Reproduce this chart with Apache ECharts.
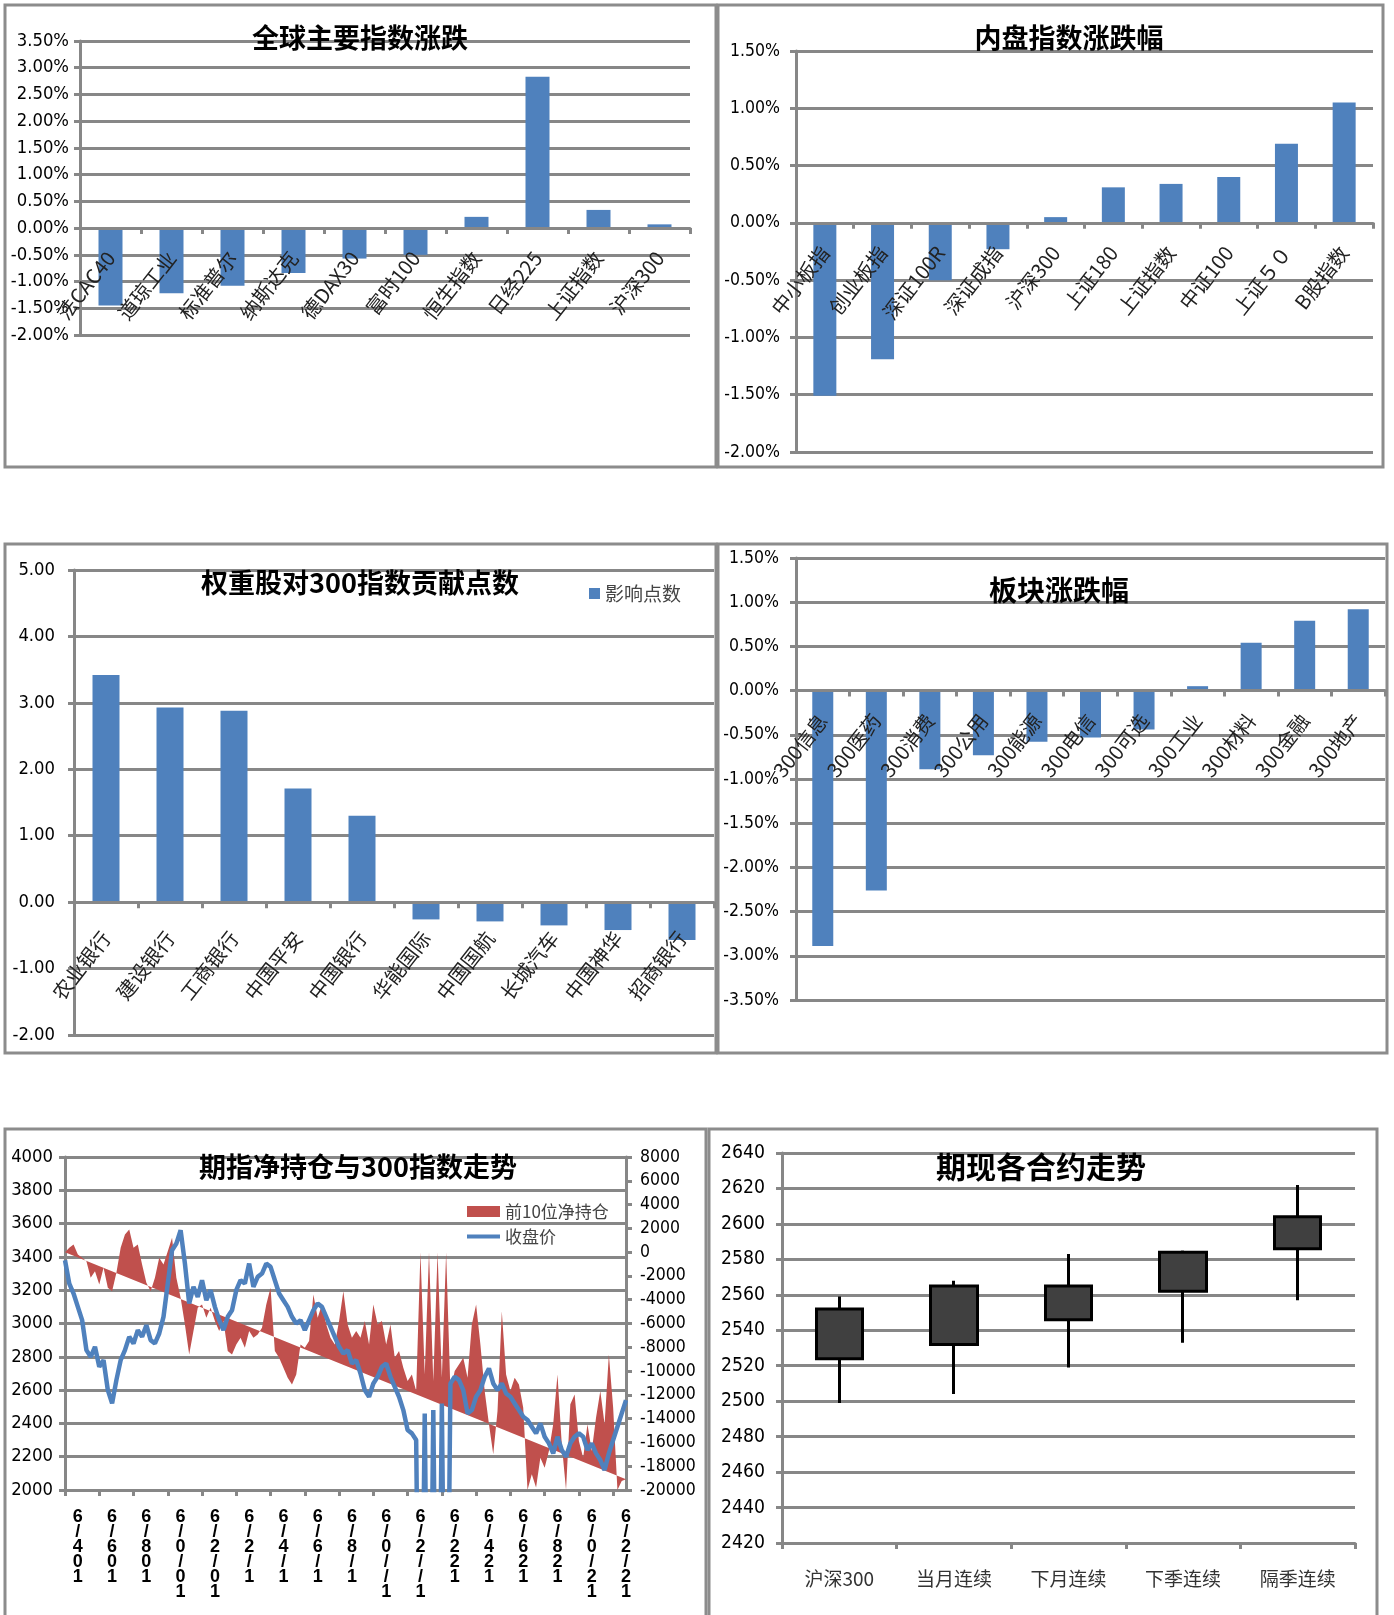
<!DOCTYPE html>
<html><head><meta charset="utf-8">
<script src="https://cdn.jsdelivr.net/npm/echarts@6/dist/echarts.min.js"></script>
<style>html,body{margin:0;padding:0;background:#fff}#c{width:1394px;height:1615px}</style>
</head><body><div id="c"></div>
<script>
// ---------- data ----------
const globalCats = ['法CAC40','道琼工业','标准普尔','纳斯达克','德DAX30','富时100','恒生指数','日经225','上证指数','沪深300'];
const globalVals = [-1.45,-1.22,-1.08,-0.84,-0.57,-0.50,0.21,2.83,0.34,0.07];

const domesticCats = ['中小板指','创业板指','深证100R','深证成指','沪深300','上证180','上证指数','中证100','上证５０','B股指数'];
const domesticVals = [-1.51,-1.19,-0.50,-0.23,0.05,0.31,0.34,0.40,0.69,1.05];

const weightCats = ['农业银行','建设银行','工商银行','中国平安','中国银行','华能国际','中国国航','长城汽车','中国神华','招商银行'];
const weightVals = [3.42,2.93,2.88,1.71,1.30,-0.26,-0.29,-0.35,-0.42,-0.57];

const sectorCats = ['300信息','300医药','300消费','300公用','300能源','300电信','300可选','300工业','300材料','300金融','300地产'];
const sectorVals = [-2.89,-2.26,-0.89,-0.73,-0.58,-0.53,-0.44,0.05,0.54,0.79,0.92];

const dateLabels = ['6/401','6/601','6/801','6/0/01','6/2/01','6/2/1','6/4/1','6/6/1','6/8/1','6/0//1','6/2//1','6/221','6/421','6/621','6/821','6/0/21','6/2/21'];

const closePrice = [3380,3240,3180,3100,3020,2840,2800,2860,2740,2780,
2600,2520,2660,2780,2840,2920,2880,2960,2920,2990,
2900,2880,2940,3040,3240,3440,3480,3560,3360,3120,
3220,3160,3260,3140,3200,3100,3020,2960,3040,3080,
3200,3260,3240,3360,3220,3280,3300,3360,3340,3260,
3180,3140,3100,3040,3000,3020,2960,3020,3080,3120,
3100,3040,2980,2920,2860,2820,2840,2760,2780,2700,
2600,2560,2640,2680,2740,2760,2680,2620,2560,2480,
2360,2340,2300,0,2460,0,2480,0,2520,0,
2640,2680,2660,2600,2460,2480,2560,2600,2680,2730,
2640,2600,2640,2580,2560,2520,2480,2440,2420,2380,
2340,2400,2320,2280,2220,2320,2240,2200,2280,2320,
2340,2320,2240,2280,2220,2180,2120,2220,2300,2380,
2460,2540];

const netPos = [0,360,640,-200,-480,-760,-2160,-1600,-2720,-1320,
-3000,-3280,-1740,360,1480,1900,360,640,-1040,-2580,
-3280,-2160,-480,-1040,80,1200,-2160,-3840,-6080,-8600,
-6640,-4680,-4400,-5520,-4680,-5800,-6640,-5800,-8320,-8600,
-7760,-7200,-8040,-6640,-7200,-6920,-6360,-4400,-3000,-8320,
-8880,-9720,-10560,-11120,-10280,-7760,-8040,-7480,-3560,-5520,
-4400,-6080,-7200,-7760,-5800,-3280,-6080,-7200,-6640,-7200,
-5800,-7760,-4400,-6080,-5800,-7760,-6080,-8880,-8320,-9720,
-10840,-10280,-11680,0,-10280,0,-10840,0,-10560,0,
-11680,-10000,-9440,-8880,-10560,-6080,-4400,-7760,-11680,-14480,
-17000,-13360,-4960,-10280,-11680,-10560,-11120,-13080,-20000,-18680,
-19800,-17280,-18120,-16720,-14480,-10280,-16160,-20000,-12800,-11960,
-15880,-17280,-14480,-16720,-13920,-11680,-14480,-8600,-13080,-20000,
-19240,-19100];

const contractCats = ['沪深300','当月连续','下月连续','下季连续','隔季连续'];
// [open, close, low, high]
const contractOHLC = [[2552,2524,2499,2559],[2565,2532,2504,2568],[2565,2546,2519,2583],[2584,2562,2533,2585],[2604,2586,2557,2622]];

const titles = [
  {text:'全球主要指数涨跌', x:360, y:38, size:27},
  {text:'内盘指数涨跌幅', x:1069, y:38, size:27},
  {text:'权重股对300指数贡献点数', x:360, y:583, size:27},
  {text:'板块涨跌幅', x:1059, y:590, size:28},
  {text:'期指净持仓与300指数走势', x:358, y:1167, size:27},
  {text:'期现各合约走势', x:1041, y:1167, size:30}
];

// ---------- fonts ----------
const CJK = "'Noto Sans CJK SC','Noto Sans',sans-serif";
function pickNumFont() {
  const c = document.createElement('canvas').getContext('2d');
  const probe = '0123456789%.-';
  c.font = '100px monospace';
  const base = c.measureText(probe).width;
  const cands = ['Liberation Sans Narrow','Arial Narrow','DejaVu Sans Condensed','Liberation Sans'];
  for (const f of cands) {
    c.font = "100px '" + f + "', monospace";
    if (Math.abs(c.measureText(probe).width - base) > 1) {
      c.font = "100px '" + f + "'";
      return {family:"'" + f + "',sans-serif", em:c.measureText('0').width / 100};
    }
  }
  c.font = '100px sans-serif';
  return {family:'sans-serif', em:c.measureText('0').width / 100};
}
const NF = pickNumFont();
const NUM = NF.family;
const numSize = base => Math.min(base, Math.round(base * 0.5 / NF.em * 10) / 10);

const GRAY = '#878787';
const BLUE = '#4F81BD';
const RED = '#C0504D';

// grid boxes (pixels)
const grids = [
  {left:80, top:41, width:610, height:294},
  {left:796, top:51, width:577, height:401},
  {left:74, top:570, width:640, height:465},
  {left:796, top:558, width:589, height:442},
  {left:65, top:1157, width:561, height:333},
  {left:782, top:1153, width:573, height:390}
];
// offset that lifts a bottom category axis up to the zero line of the value axis [min,max]
const zeroOffset = (g, min, max) => -(g.height * (0 - min) / (max - min));

function catAxis(gi, data, min, max, margin) {
  return {
    type:'category', gridIndex:gi, data:data,
    offset: zeroOffset(grids[gi], min, max),
    axisLine:{onZero:false, lineStyle:{color:GRAY, width:3}},
    axisTick:{show:true, length:6, lineStyle:{color:GRAY, width:3}},
    axisLabel:{interval:0, rotate:52, margin:margin, fontSize:20, fontFamily:CJK, color:'#222'},
    splitLine:{show:false}, z:3
  };
}
function valAxis(gi, min, max, step, fmt, margin, size, extra) {
  return Object.assign({
    type:'value', gridIndex:gi, min:min, max:max, interval:step,
    axisLine:{show:true, lineStyle:{color:GRAY, width:3}},
    axisTick:{show:true, length:6, lineStyle:{color:GRAY, width:3}},
    axisLabel:{formatter:fmt, margin:margin, fontSize:numSize(size), fontFamily:NUM, color:'#000'},
    splitLine:{show:true, lineStyle:{color:GRAY, width:3}}
  }, extra || {});
}
const pct = v => v.toFixed(2) + '%';
const two = v => v.toFixed(2);

const border = (x,y,w,h) => ({type:'rect', shape:{x:x,y:y,width:w,height:h}, style:{fill:'none', stroke:'#8c8c8c', lineWidth:3}, silent:true, z:0});

const chart = echarts.init(document.getElementById('c'), null, {renderer:'canvas'});
const dateIdx = closePrice.map((_, i) => 'd' + i);

chart.setOption({
  animation:false,
  backgroundColor:'#fff',
  graphic:[
    border(5,5,711,462), border(718,5,665,462),
    border(5,544,711,509), border(718,544,669,509),
    border(5,1129,701,495), border(709,1129,668,495)
  ].concat(titles.map(t => ({type:'text', z:10, silent:true,
    style:{text:t.text, x:t.x, y:t.y, fill:'#000', font: 'bold ' + t.size + 'px ' + CJK, textAlign:'center', textVerticalAlign:'middle'}}))),
  grid: grids,
  legend:[
    {data:['影响点数'], left:589, top:584, padding:0, itemWidth:11, itemHeight:11, icon:'rect', selectedMode:false,
     textStyle:{fontSize:19, fontFamily:CJK, color:'#444'}},
    {data:[{name:'前10位净持仓', icon:'rect'}], left:467, top:1203, padding:0,
     itemWidth:33, itemHeight:11, selectedMode:false, textStyle:{fontSize:17, fontFamily:CJK, color:'#444'}},
    {data:[{name:'收盘价', icon:'rect'}], left:467, top:1228, padding:0,
     itemWidth:33, itemHeight:4, selectedMode:false, textStyle:{fontSize:17, fontFamily:CJK, color:'#444'}}
  ],
  xAxis:[
    catAxis(0, globalCats, -2, 3.5, 26),
    catAxis(1, domesticCats, -2, 1.5, 26),
    catAxis(2, weightCats, -2, 5, 32),
    catAxis(3, sectorCats, -3.5, 1.5, 26),
    {type:'category', gridIndex:4, data:dateIdx, boundaryGap:false,
     axisLine:{onZero:false, lineStyle:{color:GRAY, width:3}},
     axisTick:{show:true, length:6, interval:(i)=> i % 8 === 0, lineStyle:{color:GRAY, width:3}},
     axisLabel:{interval:(i)=> i % 8 === 3, margin:20, fontSize:18, fontWeight:'bold', lineHeight:15, fontFamily:"'Liberation Sans',sans-serif", color:'#000',
       formatter:(v, i) => (i % 8 === 3) ? dateLabels[(i - 3) / 8].split('').join('\n') : ''},
     splitLine:{show:false}},
    {type:'category', gridIndex:5, data:contractCats,
     axisLine:{lineStyle:{color:GRAY, width:3}},
     axisTick:{show:true, length:6, lineStyle:{color:GRAY, width:3}},
     axisLabel:{margin:26, fontSize:19, fontFamily:CJK, color:'#333'},
     splitLine:{show:false}}
  ],
  yAxis:[
    valAxis(0, -2, 3.5, 0.5, pct, 11, 21),
    valAxis(1, -2, 1.5, 0.5, pct, 16, 20),
    valAxis(2, -2, 5, 1, two, 19, 21),
    valAxis(3, -3.5, 1.5, 0.5, pct, 17, 20),
    valAxis(4, 2000, 4000, 200, v => String(v), 12, 21),
    valAxis(4, -20000, 8000, 2000, v => String(v), 14, 20, {position:'right', splitLine:{show:false}}),
    valAxis(5, 2420, 2640, 20, v => String(v), 17, 22)
  ],
  series:[
    {type:'bar', xAxisIndex:0, yAxisIndex:0, data:globalVals, barWidth:24, itemStyle:{color:BLUE}},
    {type:'bar', xAxisIndex:1, yAxisIndex:1, data:domesticVals, barWidth:23, itemStyle:{color:BLUE}},
    {type:'bar', name:'影响点数', xAxisIndex:2, yAxisIndex:2, data:weightVals, barWidth:27, itemStyle:{color:BLUE}},
    {type:'bar', xAxisIndex:3, yAxisIndex:3, data:sectorVals, barWidth:21, itemStyle:{color:BLUE}},
    {type:'custom', name:'前10位净持仓', xAxisIndex:4, yAxisIndex:5, z:2,
     itemStyle:{color:RED},
     data:[[0, netPos[0]]],
     renderItem:(params, api) => {
       if (params.dataIndex !== 0) return null;
       const pts = netPos.map((v, i) => api.coord([i, v]));
       return {type:'polygon', shape:{points:pts}, style:{fill:RED}, silent:true};
     }},
    {type:'line', name:'收盘价', xAxisIndex:4, yAxisIndex:4, z:3, data:closePrice, showSymbol:false, symbol:'none',
     lineStyle:{color:BLUE, width:4.5}, itemStyle:{color:BLUE}},
    {type:'candlestick', xAxisIndex:5, yAxisIndex:6, data:contractOHLC, barWidth:47,
     itemStyle:{color:'#404040', color0:'#404040', borderColor:'#000', borderColor0:'#000', borderWidth:3}}
  ]
});
</script></body></html>
